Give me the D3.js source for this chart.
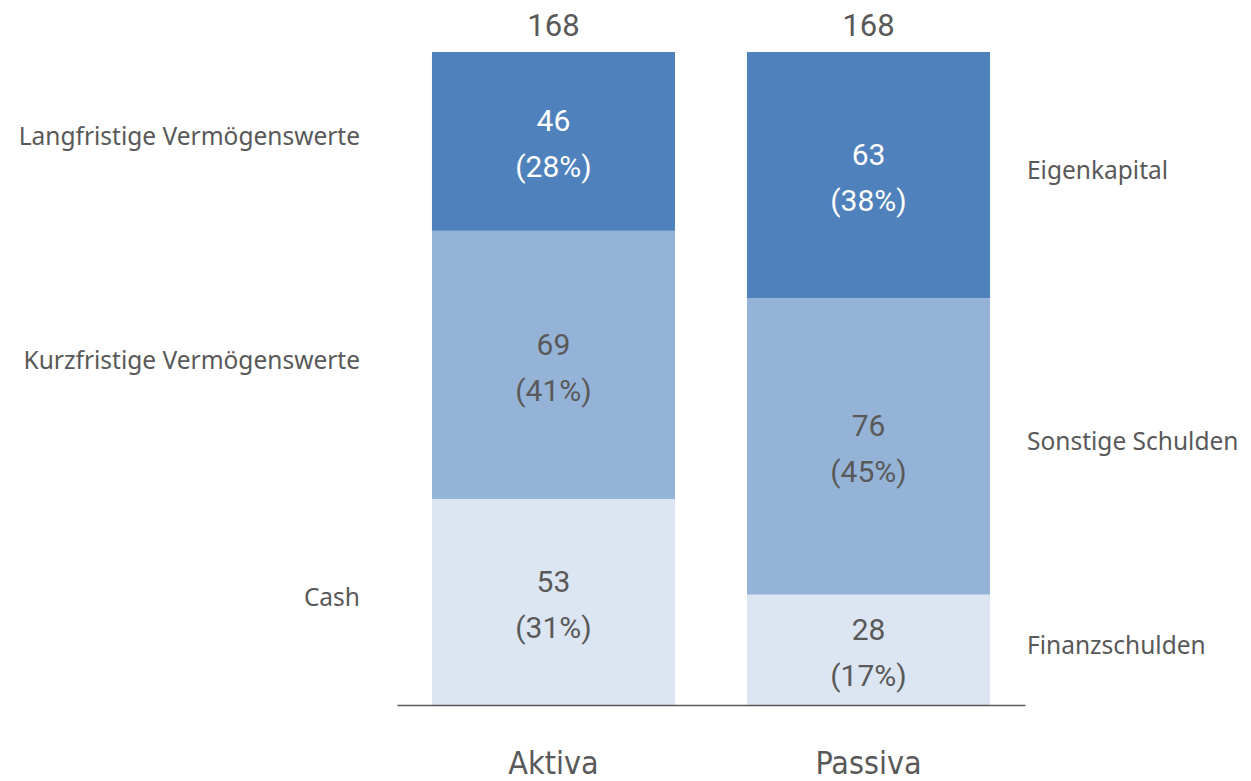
<!DOCTYPE html>
<html>
<head>
<meta charset="utf-8">
<script src="https://cdn.jsdelivr.net/npm/d3@7"></script>
<style>
  body { margin: 0; background: #fff; }
  text { font-family: Roboto, "Noto Sans", sans-serif; fill: #595959; }
</style>
</head>
<body>
<svg id="chart"></svg>
<script>
const width = 1251;
const height = 781;

// Daten (Passiva ungerundet geschätzt, Summe 168)
let categories = ["Aktiva", "Passiva"];
let aktivaLabels = ["Cash", "Kurzfristige Vermögenswerte", "Langfristige Vermögenswerte"];
let aktivaValues = [53, 69, 46];
let aktivaShares = ["31%", "41%", "28%"];
let passivaLabels = ["Finanzschulden", "Sonstige Schulden", "Eigenkapital"];
let passivaValues = [28.4, 76.3, 63.3];
let passivaShares = ["17%", "45%", "38%"];
let totals = [168, 168];
let colors = ["#dce6f2", "#95b3d7", "#4f81bd"];

let svg = d3.select("#chart").attr("width", width).attr("height", height);

// Skalen
let scaleX = d3.scaleBand()
    .domain(categories)
    .range([397, 1025])
    .paddingInner(0.2286)
    .paddingOuter(0.111);

let scaleY = d3.scaleLinear()
    .domain([0, 168])
    .range([705, 52]);

function stackSegments(values) {
    let acc = 0;
    return values.map((v, i) => {
        let seg = { y0: acc, y1: acc + v, value: v, idx: i };
        acc += v;
        return seg;
    });
}

let series = [
    { cat: "Aktiva", segs: stackSegments(aktivaValues), shares: aktivaShares, labels: aktivaLabels, side: "left" },
    { cat: "Passiva", segs: stackSegments(passivaValues), shares: passivaShares, labels: passivaLabels, side: "right" }
];

series.forEach((s, si) => {
    let g = svg.append("g");
    g.selectAll("rect")
        .data(s.segs)
        .enter()
        .append("rect")
        .attr("x", scaleX(s.cat))
        .attr("width", scaleX.bandwidth())
        .attr("y", (d) => scaleY(d.y1))
        .attr("height", (d) => scaleY(d.y0) - scaleY(d.y1))
        .style("fill", (d) => colors[d.idx]);

    // Werte in den Balken
    s.segs.forEach((d) => {
        let cx = scaleX(s.cat) + scaleX.bandwidth() / 2;
        let cy = (scaleY(d.y0) + scaleY(d.y1)) / 2;
        let col = d.idx == 2 ? "#ffffff" : "#595959";
        let t = g.append("text")
            .attr("x", cx)
            .attr("text-anchor", "middle")
            .style("font-size", "30px")
            .style("fill", col);
        t.append("tspan").attr("x", cx).attr("y", cy - 10).text(Math.round(d.value));
        t.append("tspan").attr("x", cx).attr("y", cy + 36).text("(" + s.shares[d.idx] + ")");

        // Beschriftung links / rechts
        let lx = s.side == "left" ? 360 : 1027;
        svg.append("text")
            .attr("x", lx)
            .attr("y", cy + 4)
            .attr("text-anchor", s.side == "left" ? "end" : "start")
            .style("font-family", "'Noto Sans', sans-serif")
            .style("font-size", "24.5px")
            .text(s.labels[d.idx]);
    });

    // Summe
    svg.append("text")
        .attr("x", scaleX(s.cat) + scaleX.bandwidth() / 2)
        .attr("y", 36)
        .attr("text-anchor", "middle")
        .style("font-size", "31px")
        .text(totals[si]);
});

// Achse
let axisX = d3.axisBottom(scaleX).tickSize(0).tickPadding(0);
let axisG = svg.append("g")
    .attr("transform", `translate(0, 705)`)
    .call(axisX);
axisG.select(".domain").attr("stroke", "#595959").attr("stroke-width", 1.3);
axisG.selectAll("text")
    .attr("dy", "0")
    .attr("y", 69)
    .style("font-family", "'Liberation Sans Narrow', 'DejaVu Sans Condensed', sans-serif")
    .style("font-size", "32px")
    .style("fill", "#595959");
</script>
</body>
</html>
